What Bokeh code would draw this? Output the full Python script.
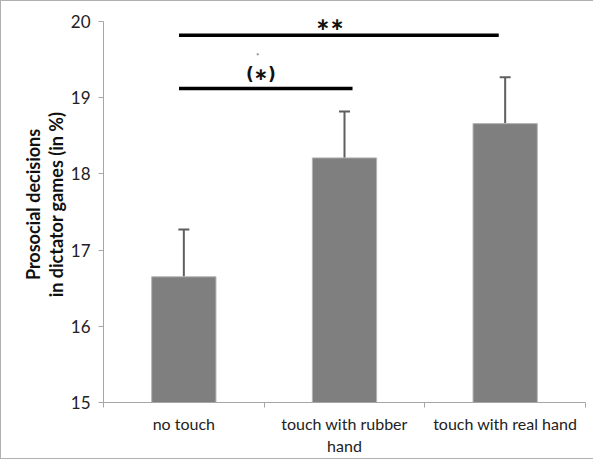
from bokeh.plotting import figure
from bokeh.models import Range1d, FixedTicker, Whisker, TeeHead, ColumnDataSource
from bokeh.core.properties import value
from bokeh.embed import file_html
from bokeh.resources import INLINE

categories = ["no touch", "touch with rubber\nhand", "touch with real hand"]
cat_pos = [0.5, 1.5, 2.5]
values = [16.65, 18.21, 18.66]
errors = [0.62, 0.61, 0.61]
y_ticks = [15, 16, 17, 18, 19, 20]

sig_x0 = [0.47, 0.47]
sig_x1 = [2.46, 1.55]
sig_y = [19.82, 19.12]
sig_text = ["∗∗", "(∗)"]
sig_text_x = [1.41, 0.98]
sig_text_y = [19.97, 19.31]

FONT = "Lato"
PXU = 76.2
y_top = 15 + 396 / PXU

p = figure(frame_width=482, frame_height=396,
           min_border_left=102, min_border_right=8, min_border_top=5, min_border_bottom=56,
           x_range=Range1d(0, 3), y_range=Range1d(15, y_top),
           output_backend="svg", toolbar_location=None)
p.outline_line_color = None
p.grid.visible = False
p.background_fill_color = "white"
p.border_fill_color = "white"
p.styles = {"border-top": "1px solid #b0b0b0", "border-left": "1px solid #b0b0b0",
            "border-bottom": "1px solid #b0b0b0", "box-sizing": "border-box"}

src = ColumnDataSource(dict(x=cat_pos, top=values,
                            upper=[v + e for v, e in zip(values, errors)]))
p.vbar(x="x", top="top", bottom=15, width=0.4, source=src,
       fill_color="#7f7f7f", line_color="#b4b4b4", line_width=1)

p.add_layout(Whisker(base="x", upper="upper", lower="top", source=src, dimension="height",
                     line_color="#5f5f5f", line_width=2,
                     upper_head=TeeHead(size=11, line_color="#5f5f5f", line_width=2),
                     lower_head=None))

p.segment(x0=sig_x0, x1=sig_x1, y0=sig_y, y1=sig_y, line_color="black", line_width=3.5)
p.text(x=sig_text_x, y=sig_text_y, text=sig_text, text_align="center",
       text_baseline="middle", text_font_size="17px", text_font_style="bold",
       text_color="#111111", text_font=value("DejaVu Sans"))
p.scatter(x=[0.96], y=[19.57], size=1.5, color="#999999")

# y axis
ya = p.yaxis[0]
ya.ticker = FixedTicker(ticks=y_ticks, minor_ticks=[])
ya.bounds = (15, 20)
ya.axis_line_color = "#a6a6a6"
ya.major_tick_line_color = "#a6a6a6"
ya.major_tick_in = 0
ya.major_tick_out = 5
ya.minor_tick_line_color = None
ya.major_label_text_font = FONT
ya.major_label_text_font_size = "17px"
ya.major_label_text_color = "#222222"
ya.major_label_standoff = 8
ya.axis_label = "Prosocial decisions\nin dictator games (in %)"
ya.axis_label_text_font = FONT
ya.axis_label_text_font_size = "18px"
ya.axis_label_text_font_style = "bold"
ya.axis_label_text_color = "#111111"
ya.axis_label_text_line_height = 1.05
ya.axis_label_standoff = 1

# x axis
xa = p.xaxis[0]
xa.ticker = FixedTicker(ticks=cat_pos, minor_ticks=[0, 1, 2, 3])
xa.major_label_overrides = {c: l for c, l in zip(cat_pos, categories)}
xa.axis_line_color = "#a6a6a6"
xa.major_tick_line_color = None
xa.major_tick_in = 0
xa.major_tick_out = 0
xa.minor_tick_line_color = "#a6a6a6"
xa.minor_tick_in = 0
xa.minor_tick_out = 5
xa.major_label_text_font = FONT
xa.major_label_text_font_size = "16px"
xa.major_label_text_color = "#222222"
xa.major_label_standoff = 6

open("out.html", "w").write(file_html(p, INLINE))
